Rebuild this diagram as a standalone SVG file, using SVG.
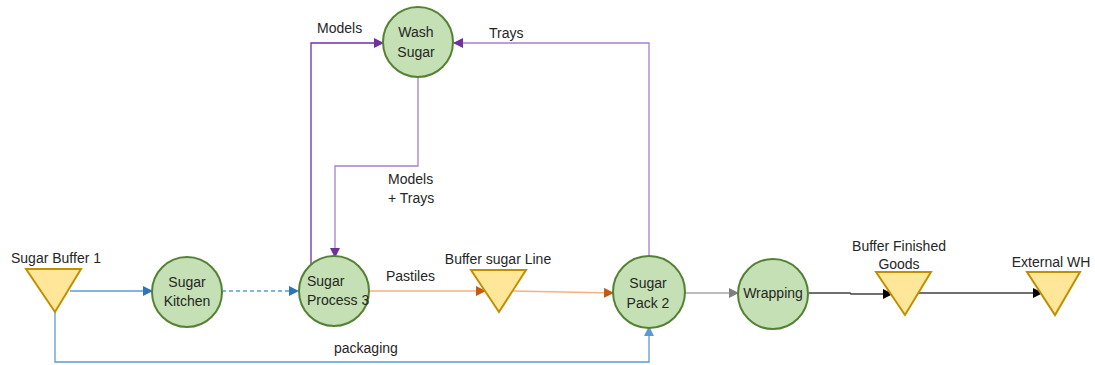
<svg xmlns="http://www.w3.org/2000/svg" width="1095" height="365" viewBox="0 0 1095 365">
<style>
.node{fill:#c5e0b4;stroke:#548235;stroke-width:2}
.buf{fill:#ffe699;stroke:#bf9000;stroke-width:2;stroke-linejoin:miter}
text{font-family:"Liberation Sans",Arial,sans-serif;font-size:14px;fill:#262626}
.c{text-anchor:middle}
.ln{fill:none;stroke-width:1.3}
</style>
<defs>
<marker id="aBlue" markerWidth="10" markerHeight="10" refX="9" refY="5" orient="auto" markerUnits="userSpaceOnUse"><path d="M0,0 L10,5 L0,10 Z" fill="#2e75b6"/></marker>
<marker id="aLBlue" markerWidth="10" markerHeight="10" refX="9" refY="5" orient="auto" markerUnits="userSpaceOnUse"><path d="M0,0 L10,5 L0,10 Z" fill="#5b9bd5"/></marker>
<marker id="aPurple" markerWidth="10" markerHeight="10" refX="9" refY="5" orient="auto" markerUnits="userSpaceOnUse"><path d="M0,0 L10,5 L0,10 Z" fill="#7030a0"/></marker>
<marker id="aOrange" markerWidth="10" markerHeight="10" refX="9" refY="5" orient="auto" markerUnits="userSpaceOnUse"><path d="M0,0 L10,5 L0,10 Z" fill="#c55a11"/></marker>
<marker id="aGray" markerWidth="10" markerHeight="10" refX="9" refY="5" orient="auto" markerUnits="userSpaceOnUse"><path d="M0,0 L10,5 L0,10 Z" fill="#7f7f7f"/></marker>
<marker id="aBlack" markerWidth="10" markerHeight="10" refX="9" refY="5" orient="auto" markerUnits="userSpaceOnUse"><path d="M0,0 L10,5 L0,10 Z" fill="#000"/></marker>
</defs>

<g id="connectors">
  <path class="ln" d="M70,291 H152" stroke="#5b9bd5" marker-end="url(#aBlue)"/>
  <path class="ln" d="M222,291 H298" stroke="#5b9bd5" stroke-dasharray="4,3" marker-end="url(#aBlue)"/>
  <path class="ln" d="M55,312 V362 H649 V327" stroke="#5b9bd5" marker-end="url(#aLBlue)"/>
  <path class="ln" d="M370,291 H485" stroke="#f4b183" stroke-width="1.5" marker-end="url(#aOrange)"/>
  <path class="ln" d="M512,291 L613,293" stroke="#f4b183" stroke-width="1.5" marker-end="url(#aOrange)"/>
  <path class="ln" d="M311,267 V43 H383" stroke="#7030a0" marker-end="url(#aPurple)"/>
  <path class="ln" d="M649,258 V43 H454" stroke="#a57fd0" marker-end="url(#aPurple)"/>
  <path class="ln" d="M418,77 V166 H335 V257" stroke="#a57fd0" marker-end="url(#aPurple)"/>
  <path class="ln" d="M685,293 H738" stroke="#a6a6a6" marker-end="url(#aGray)"/>
  <path class="ln" d="M809,293 H850 L851,294 H892" stroke="#404040" marker-end="url(#aBlack)"/>
  <path class="ln" d="M918,293 H1042" stroke="#404040" marker-end="url(#aBlack)"/>
  <text x="317" y="33">Models</text>
  <text x="489" y="38">Trays</text>
  <text x="388" y="184">Models</text>
  <text x="388" y="203">+ Trays</text>
  <text x="386" y="281">Pastiles</text>
  <text x="334" y="353">packaging</text>
</g>

<g id="sugar-buffer-1">
  <polygon class="buf" points="26,269 81,269 55,312"/>
  <text class="c" x="56" y="263">Sugar Buffer 1</text>
</g>
<g id="sugar-kitchen">
  <circle class="node" cx="187" cy="292" r="35"/>
  <text class="c" x="187" y="287">Sugar</text>
  <text class="c" x="187" y="306">Kitchen</text>
</g>
<g id="sugar-process-3">
  <circle class="node" cx="334" cy="291" r="35"/>
  <text x="307" y="286">Sugar</text>
  <text x="307" y="305">Process 3</text>
</g>
<g id="wash-sugar">
  <circle class="node" cx="418" cy="42" r="35"/>
  <text class="c" x="416" y="37">Wash</text>
  <text class="c" x="416" y="57">Sugar</text>
</g>
<g id="buffer-sugar-line">
  <polygon class="buf" points="471,270 526,270 499,312"/>
  <text class="c" x="498" y="264">Buffer sugar Line</text>
</g>
<g id="sugar-pack-2">
  <circle class="node" cx="649" cy="292" r="36"/>
  <text class="c" x="648" y="288">Sugar</text>
  <text class="c" x="648" y="308">Pack 2</text>
</g>
<g id="wrapping">
  <circle class="node" cx="773" cy="294" r="35"/>
  <text class="c" x="773" y="298">Wrapping</text>
</g>
<g id="buffer-finished-goods">
  <polygon class="buf" points="876,272 931,272 905,315"/>
  <text class="c" x="899" y="251">Buffer Finished</text>
  <text class="c" x="899" y="269">Goods</text>
</g>
<g id="external-wh">
  <polygon class="buf" points="1027,272 1080,272 1055,315"/>
  <text class="c" x="1051" y="267">External WH</text>
</g>
</svg>
